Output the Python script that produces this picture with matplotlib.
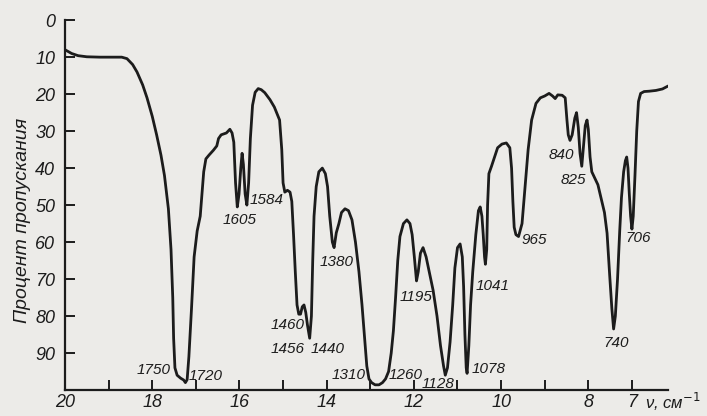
import matplotlib
matplotlib.use("Agg")
import matplotlib.pyplot as plt

# wavenumber (x100 cm^-1) and percent transmission (0 at top); 10 values per row
wn = [20.0, 19.85, 19.7, 19.5, 19.2, 18.9, 18.7, 18.58, 18.45, 18.35,
      18.22, 18.12, 18.0, 17.9, 17.8, 17.72, 17.63, 17.57, 17.53, 17.51,
      17.48, 17.43, 17.35, 17.28, 17.24, 17.2, 17.16, 17.1, 17.04, 16.97,
      16.9, 16.86, 16.82, 16.77, 16.7, 16.6, 16.52, 16.48, 16.42, 16.3,
      16.22, 16.17, 16.13, 16.09, 16.05, 16.01, 15.97, 15.94, 15.91, 15.87,
      15.83, 15.79, 15.75, 15.7, 15.64, 15.57, 15.5, 15.42, 15.3, 15.2,
      15.08, 15.03, 15.0, 14.96, 14.9, 14.84, 14.8, 14.76, 14.72, 14.68,
      14.64, 14.6, 14.56, 14.52, 14.48, 14.44, 14.39, 14.35, 14.32, 14.29,
      14.24, 14.18, 14.1, 14.03, 13.98, 13.93, 13.87, 13.83, 13.78, 13.72,
      13.66, 13.58, 13.5, 13.42, 13.34, 13.26, 13.19, 13.13, 13.08, 13.03,
      12.97, 12.89, 12.8, 12.72, 12.65, 12.58, 12.52, 12.47, 12.42, 12.37,
      12.32, 12.24, 12.16, 12.09, 12.04, 11.99, 11.94, 11.9, 11.85, 11.79,
      11.72, 11.64, 11.56, 11.47, 11.39, 11.32, 11.28, 11.23, 11.17, 11.11,
      11.06, 11.0, 10.94, 10.89, 10.86, 10.83, 10.8, 10.78, 10.74, 10.7,
      10.65, 10.58, 10.52, 10.48, 10.44, 10.41, 10.38, 10.36, 10.33, 10.31,
      10.28, 10.22, 10.15, 10.08, 9.98, 9.88, 9.8, 9.76, 9.73, 9.7,
      9.66, 9.6, 9.52, 9.45, 9.38, 9.3, 9.2, 9.1, 9.0, 8.9,
      8.82, 8.76, 8.7, 8.6, 8.53, 8.49, 8.46, 8.42, 8.37, 8.31,
      8.27, 8.23, 8.19, 8.15, 8.11, 8.07, 8.03, 8.0, 7.96, 7.92,
      7.86, 7.78, 7.7, 7.63, 7.57, 7.51, 7.46, 7.42, 7.38, 7.33,
      7.28, 7.24, 7.19, 7.15, 7.12, 7.09, 7.06, 7.03, 7.0, 6.97,
      6.93, 6.89, 6.85, 6.8, 6.72, 6.6, 6.45, 6.3, 6.17]
tr = [8.0, 9.0, 9.6, 9.9, 10.0, 10.0, 10.0, 10.4, 12.0, 14.0,
      17.5, 21.0, 26.0, 31.0, 36.5, 42.0, 51.0, 62.0, 75.0, 86.0,
      94.0, 96.0, 96.8, 97.3, 98.0, 97.2, 91.0, 78.0, 64.0, 57.0,
      53.0, 47.0, 41.0, 37.5, 36.5, 35.2, 34.0, 32.0, 31.0, 30.5,
      29.5, 30.5, 33.0, 44.0, 50.5, 47.0, 40.0, 36.0, 39.0, 47.0,
      50.0, 44.0, 32.0, 23.0, 19.5, 18.5, 18.8, 19.6, 21.5, 23.5,
      27.0, 35.0, 44.0, 46.5, 46.0, 46.5, 49.0, 58.0, 68.0, 77.0,
      79.5, 79.5, 77.5, 77.0, 79.0, 82.5, 86.0, 80.0, 65.0, 53.0,
      45.0, 41.0, 40.0, 41.5, 45.0, 53.0, 60.0, 61.5, 57.5, 55.0,
      52.0, 51.0, 51.5, 54.0, 60.0, 68.0, 77.0, 86.0, 93.5, 97.0,
      98.0, 98.6, 98.6, 98.0, 97.0, 95.0, 90.0, 84.0, 75.0, 65.0,
      58.5, 55.0, 54.0, 55.0, 58.0, 64.0, 70.5, 68.0, 63.0, 61.5,
      64.0, 68.5, 73.0, 80.0, 88.0, 93.5, 96.0, 94.0, 87.0, 77.0,
      67.0, 61.5, 60.5, 64.0, 72.0, 85.0, 94.0, 95.5, 88.0, 77.0,
      68.0, 58.0, 51.5, 50.5, 53.0, 58.0, 64.0, 66.0, 62.0, 50.0,
      41.5, 39.5, 37.0, 34.5, 33.5, 33.2, 34.5, 40.0, 49.0, 56.0,
      58.0, 58.5, 55.0, 45.0, 35.0, 27.0, 22.5, 21.0, 20.5, 19.8,
      20.5, 21.2, 20.2, 20.3, 21.0, 27.0, 31.0, 32.5, 31.0, 26.5,
      25.0, 29.0, 36.0, 39.5, 34.0, 28.5, 27.0, 29.5, 37.0, 41.0,
      42.5, 44.5, 48.5, 52.0, 57.6, 69.0, 78.0, 83.5, 80.0, 70.0,
      57.0, 48.0, 41.0, 38.0, 37.0, 40.0, 47.0, 53.0, 56.5, 53.0,
      42.0, 30.0, 22.0, 19.8, 19.3, 19.2, 19.0, 18.6, 17.8]

# peak annotations: label text, x, y (centre)
peak_labels = ["1750", "1720", "1605", "1584", "1460", "1456", "1440", "1380", "1310",
               "1260", "1195", "1128", "1078", "1041", "965", "840", "825", "740", "706"]
peak_x = [17.98, 16.78, 15.99, 15.37, 14.9, 14.9, 13.97, 13.78, 13.5,
          12.2, 11.95, 11.45, 10.28, 10.2, 9.24, 8.62, 8.34, 7.36, 6.85]
peak_y = [94.6, 96.3, 54.0, 48.6, 82.4, 88.8, 88.8, 65.3, 96.0,
          96.0, 74.8, 98.3, 94.2, 72.0, 59.5, 36.5, 43.2, 87.4, 59.0]

x_ticks = [20, 19, 18, 17, 16, 15, 14, 13, 12, 11, 10, 9, 8, 7]
x_tick_labels = ["20", "", "18", "", "16", "", "14", "", "12", "", "10", "", "8", "7"]
y_ticks = [0, 10, 20, 30, 40, 50, 60, 70, 80, 90]
y_tick_labels = ["0", "10", "20", "30", "40", "50", "60", "70", "80", "90"]

bg = "#ecebe8"
ink = "#1c1c1c"
fam = ["Liberation Sans", "DejaVu Sans"]

fig = plt.figure(figsize=(7.07, 4.16), dpi=100, facecolor=bg)
ax = fig.add_axes([0.092, 0.0625, 0.853, 0.889], facecolor=bg)

ax.plot(wn, tr, color=ink, lw=2.0, solid_joinstyle="round", solid_capstyle="round")

ax.set_xlim(20, 6.17)
ax.set_ylim(100, 0)

for s in ["top", "right"]:
    ax.spines[s].set_visible(False)
for s in ["left", "bottom"]:
    ax.spines[s].set_color(ink)
    ax.spines[s].set_linewidth(1.6)

ax.set_xticks(x_ticks)
ax.set_xticklabels(x_tick_labels, fontstyle="italic", family=fam, fontsize=13, color=ink)
ax.set_yticks(y_ticks)
ax.set_yticklabels(y_tick_labels, fontstyle="italic", family=fam, fontsize=13, color=ink)
ax.tick_params(axis="both", direction="in", length=7, width=1.4, color=ink, pad=3)
ax.tick_params(axis="y", pad=7)

for t, xx, yy in zip(peak_labels, peak_x, peak_y):
    ax.text(xx, yy, t, ha="center", va="center", fontstyle="italic", family=fam,
            fontsize=11, color=ink)

fig.text(0.913, 0.034, "ν, см$^{-1}$", ha="left", va="center", fontstyle="italic",
         family=fam, fontsize=12, color=ink)

fig.text(0.032, 0.47, "Процент пропускания", rotation=90, ha="center", va="center",
         fontstyle="italic", family=fam, fontsize=14, color=ink)

fig.savefig("out.png", dpi=100, facecolor=bg)
